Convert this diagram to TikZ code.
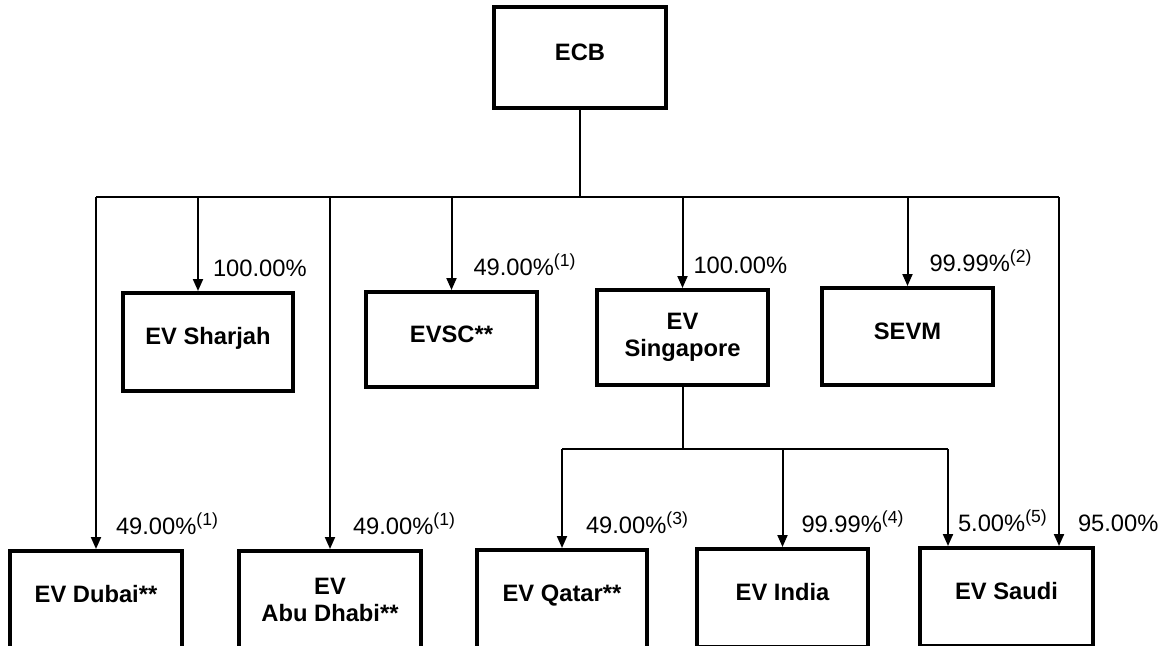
\documentclass[tikz,border=0pt]{standalone}
\usepackage{fontspec}
\setmainfont{Liberation Sans}
\usetikzlibrary{arrows.meta}

\newcommand{\note}[1]{\raisebox{4.6pt}{\fontsize{10}{10}\selectfont(#1)}}

\begin{document}
\begin{tikzpicture}[->, >={Triangle[length=0.24cm,width=0.2cm]}, line width=0.04cm]
				\tikzstyle{box}=[draw=black, line width=0.08cm, fill=white, align=center, inner sep=0pt,
				  minimum width=3.42cm, minimum height=1.94cm, font=\bfseries\fontsize{13.5}{15.4}\selectfont]
				\tikzstyle{oneline}=[text height=0.4cm, text depth=0.3cm]
				\tikzstyle{pct}=[anchor=base west, inner sep=0pt, yshift=0.3cm, font=\fontsize{13.5}{15}\selectfont]
				
				\useasboundingbox (0,0) rectangle (23.44,-12.9);
				\clip (0,0) rectangle (23.44,-12.9);
				
				% top
				\node[box, oneline, minimum width=3.44cm, minimum height=2.02cm] at (11.6,-1.15) (ECB) {ECB};
				
				% middle row
				\node[box, oneline, minimum width=3.4cm, minimum height=1.96cm] at (4.16,-6.84) (Sharjah) {EV Sharjah};
				\node[box, oneline, minimum height=1.9cm] at (9.03,-6.79) (EVSC) {EVSC**};
				\node[box, minimum height=1.9cm] at (13.65,-6.75) (Singapore) {EV\\Singapore};
				\node[box, oneline] at (18.15,-6.73) (SEVM) {SEVM};
				
				% bottom row
				\node[box, oneline, minimum width=3.44cm, minimum height=1.96cm] at (1.92,-12.0) (Dubai) {EV Dubai**};
				\node[box, minimum width=3.64cm, minimum height=1.96cm] at (6.6,-12.0) (AbuDhabi) {EV\\Abu Dhabi**};
				\node[box, oneline, minimum width=3.4cm, minimum height=1.96cm] at (11.24,-11.98) (Qatar) {EV Qatar**};
				\node[box, oneline, minimum height=1.96cm] at (15.65,-11.96) (India) {EV India};
				\node[box, oneline, minimum width=3.46cm, minimum height=1.96cm] at (20.13,-11.94) (Saudi) {EV Saudi};
				
				\coordinate (bus) at (0,-3.94);
				\coordinate (sub) at (0,-8.98);
				\coordinate (shj) at ([xshift=-0.2cm]Sharjah.north);
				\coordinate (s5) at ([xshift=-1.17cm]Saudi.north);
				\coordinate (s95) at ([xshift=1.05cm]Saudi.north);
				
				\draw[-] (ECB.south) -- (ECB.south |- bus);
				\draw[-] (bus -| Dubai.north) -- (bus -| s95);
				\draw[-] (Singapore.south) -- (Singapore.south |- sub);
				\draw[-] (sub -| Qatar.north) -- (sub -| s5);
				
				\draw (bus -| shj) -- (shj) node[pct, xshift=0.28cm] {100.00\%};
				\draw (bus -| EVSC.north) -- (EVSC.north) node[pct, xshift=0.42cm] {49.00\%\note{1}};
				\draw (bus -| Singapore.north) -- (Singapore.north) node[pct, xshift=0.2cm] {100.00\%};
				\draw (bus -| SEVM.north) -- (SEVM.north) node[pct, xshift=0.42cm] {99.99\%\note{2}};
				\draw (bus -| Dubai.north) -- (Dubai.north) node[pct, xshift=0.38cm] {49.00\%\note{1}};
				\draw (bus -| AbuDhabi.north) -- (AbuDhabi.north) node[pct, xshift=0.44cm] {49.00\%\note{1}};
				\draw (bus -| s95) -- (s95) node[pct, xshift=0.36cm] {95.00\%};
				
				\draw (sub -| Qatar.north) -- (Qatar.north) node[pct, xshift=0.46cm] {49.00\%\note{3}};
				\draw (sub -| India.north) -- (India.north) node[pct, xshift=0.36cm] {99.99\%\note{4}};
				\draw (sub -| s5) -- (s5) node[pct, xshift=0.18cm] {5.00\%\note{5}};
		  \end{tikzpicture}
\end{document}
